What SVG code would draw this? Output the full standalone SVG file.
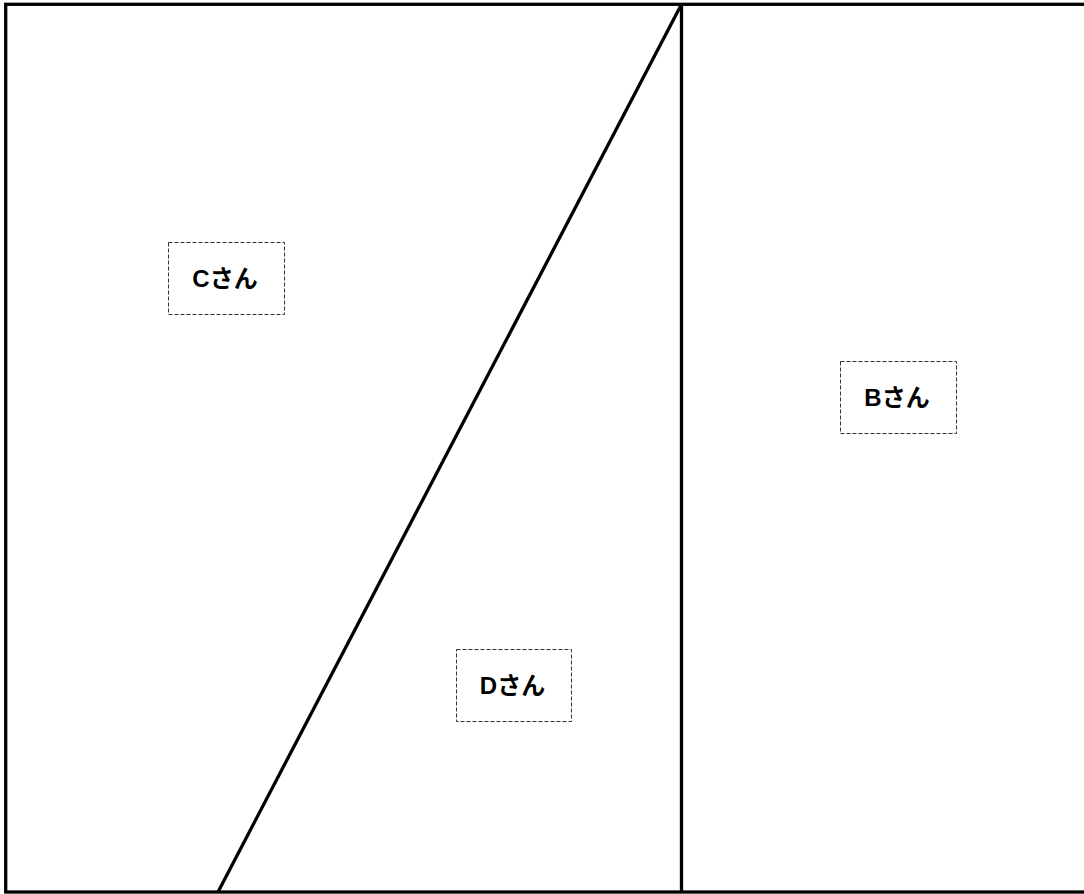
<svg xmlns="http://www.w3.org/2000/svg" width="1084" height="894" viewBox="0 0 1084 894">
<style>
.frame{fill:none;stroke:#000;stroke-width:3.3}
.box{fill:#fff;stroke:#333;stroke-width:1;stroke-dasharray:4 2}
.lbl{font-family:"Liberation Sans","Noto Sans CJK JP",sans-serif;font-size:24px;font-weight:bold;fill:#000;text-anchor:middle;dominant-baseline:central}
</style>
<rect width="1084" height="894" fill="#fff"/>
<g id="connectors">
<rect class="frame" x="5.7" y="4.3" width="1090" height="887.7"/>
<line class="frame" x1="681.5" y1="4.3" x2="681.5" y2="892"/>
<line class="frame" x1="681.5" y1="4.3" x2="218" y2="892"/>
</g>
<g id="C">
<rect class="box" x="168.5" y="242.5" width="116" height="72"/>
<text class="lbl" x="225" y="278.5">Cさん</text>
</g>
<g id="B">
<rect class="box" x="840.5" y="361.5" width="116" height="72"/>
<text class="lbl" x="897" y="397.5">Bさん</text>
</g>
<g id="D">
<rect class="box" x="456.5" y="649.5" width="115" height="72"/>
<text class="lbl" x="512.5" y="685.5">Dさん</text>
</g>
</svg>
